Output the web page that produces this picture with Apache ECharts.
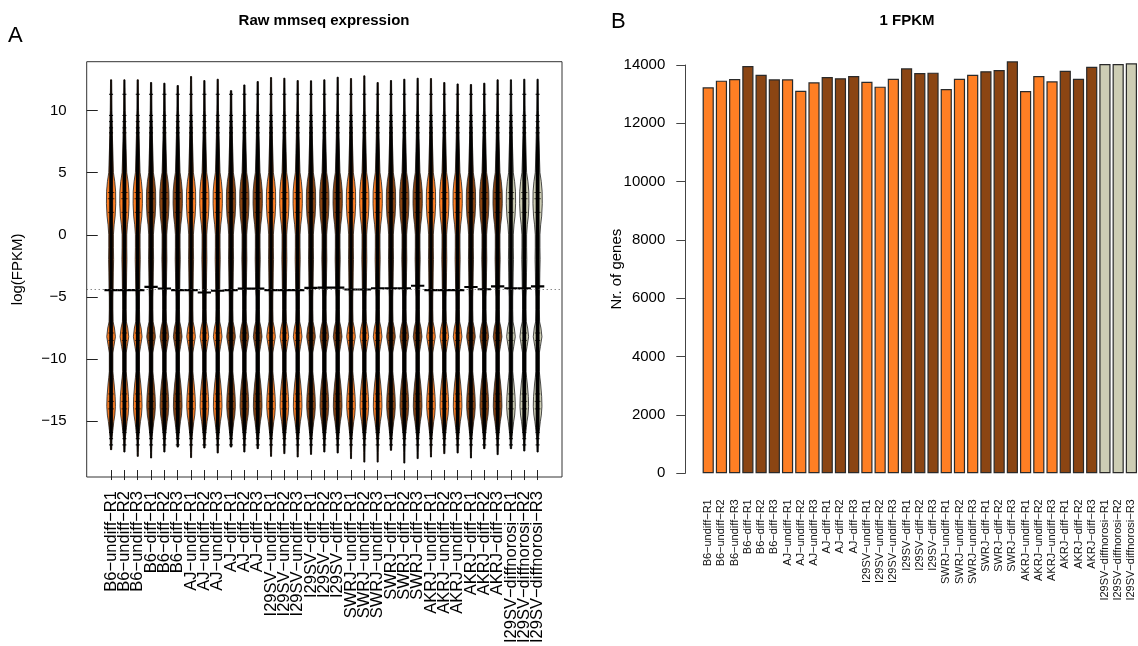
<!DOCTYPE html>
<html lang="en">
<head>
    <meta charset="UTF-8">
    <title>mmseq expression</title>
    <script src="https://cdn.jsdelivr.net/npm/echarts@6.0.0/dist/echarts.min.js"></script>
    <style>
        body { margin: 0; background: #fff; }
        #chart { width: 1138px; height: 646px; }
    </style>
</head>
<body>
    <div id="chart"></div>
<script>
    // sample names, same order in both panels
    const samples = [
        'B6-undiff-R1', 'B6-undiff-R2', 'B6-undiff-R3', 'B6-diff-R1', 'B6-diff-R2', 'B6-diff-R3',
        'AJ-undiff-R1', 'AJ-undiff-R2', 'AJ-undiff-R3', 'AJ-diff-R1', 'AJ-diff-R2', 'AJ-diff-R3',
        'I29SV-undiff-R1', 'I29SV-undiff-R2', 'I29SV-undiff-R3', 'I29SV-diff-R1', 'I29SV-diff-R2', 'I29SV-diff-R3',
        'SWRJ-undiff-R1', 'SWRJ-undiff-R2', 'SWRJ-undiff-R3', 'SWRJ-diff-R1', 'SWRJ-diff-R2', 'SWRJ-diff-R3',
        'AKRJ-undiff-R1', 'AKRJ-undiff-R2', 'AKRJ-undiff-R3', 'AKRJ-diff-R1', 'AKRJ-diff-R2', 'AKRJ-diff-R3',
        'I29SV-diffnorosi-R1', 'I29SV-diffnorosi-R2', 'I29SV-diffnorosi-R3'
    ];

    // panel B: number of genes above 1 FPKM
    const genesAt1FPKM = [
        13236, 13463, 13521, 13966, 13668, 13510,
        13510, 13119, 13407, 13589, 13545, 13623,
        13428, 13257, 13531, 13887, 13726, 13737,
        13178, 13531, 13668, 13785, 13829, 14127,
        13109, 13623, 13441, 13805, 13531, 13942,
        14035, 14035, 14059
    ];

    // panel A: bean extents and bean averages (log FPKM)
    const beanTop = [
        12.46, 12.46, 12.46, 12.24, 12.19, 12.0, 12.72, 12.4, 12.51, 11.59, 12.05,
        12.32, 12.64, 12.59, 12.4, 12.38, 12.46, 12.67, 12.56, 12.78, 12.24, 12.4,
        12.51, 12.59, 12.56, 12.24, 12.13, 12.08, 12.19, 12.46, 12.46, 12.51, 12.51
    ];
    const beanBottom = [
        -17.28, -17.47, -17.82, -17.95, -17.47, -17.07, -17.92, -17.15, -17.55, -17.07, -17.47,
        -17.2, -17.82, -17.6, -17.87, -17.66, -17.47, -17.55, -18.0, -18.28, -18.28, -17.33,
        -18.36, -18.0, -17.87, -17.6, -17.55, -17.95, -17.2, -17.68, -17.2, -17.39, -17.47
    ];
    const beanMean = [
        -4.45, -4.45, -4.45, -4.19, -4.32, -4.45, -4.45, -4.64, -4.5, -4.45, -4.33,
        -4.33, -4.45, -4.45, -4.45, -4.27, -4.25, -4.25, -4.4, -4.4, -4.3, -4.3,
        -4.3, -4.1, -4.45, -4.45, -4.45, -4.2, -4.38, -4.15, -4.3, -4.3, -4.15
    ];
    const overallMean = -4.37;

    // shared bean density profile (relative width at each level)
    const profileLevels = [12.5, 11, 10, 8, 6.5, 5, 4.3, 3.5, 2.5, 1.5, 0.8, 0, -1, -2, -3, -4.4, -5, -6,
        -7, -7.5, -8.2, -9, -9.5, -10, -11, -11.5, -12, -13, -13.8, -14.5, -15, -15.5, -16, -16.5, -17.5, -18.5];
    const profileDensity = [0.12, 0.15, 0.17, 0.28, 0.37, 0.5, 0.78, 0.97, 1.0, 0.87, 0.65, 0.5, 0.5, 0.54, 0.48, 0.43, 0.37, 0.37,
        0.43, 0.72, 0.93, 0.59, 0.37, 0.37, 0.37, 0.5, 0.65, 0.87, 0.93, 0.8, 0.59, 0.43, 0.28, 0.17, 0.12, 0.1];
    // sparse bean lines in the tails and lines across the modes
    const tailLines = [11.3, 9.6, 9.1, 8.6, 8.2, -15.9, -16.4, -16.9];
    const modeLines = [3.4, 2.9, 1.8, -7.9, -8.5, -12.8, -13.4, -14.0];

    const yTicksA = [-15, -10, -5, 0, 5, 10];

    const colOrange = '#FF7F24', colBrown = '#8B4513', colBeige = '#CDCDB4';
    function groupColor(name) {
        if (name.indexOf('diffnorosi') >= 0) return colBeige;
        if (name.indexOf('undiff') >= 0) return colOrange;
        return colBrown;
    }
    const minus = s => String(s).replace(/-/g, '\u2212');
    const font = '"Liberation Sans", Arial, Helvetica, sans-serif';

    function densityAt(v) {
        for (let k = 0; k < profileLevels.length - 1; k++) {
            const a = profileLevels[k], b = profileLevels[k + 1];
            if (v <= a && v >= b) {
                const t = (a - v) / (a - b);
                return profileDensity[k] + t * (profileDensity[k + 1] - profileDensity[k]);
            }
        }
        return v > profileLevels[0] ? profileDensity[0] : profileDensity[profileDensity.length - 1];
    }

    function renderBean(params, api) {
        const i = api.value(0), top = api.value(1), bottom = api.value(2), mean = api.value(3);
        const color = groupColor(samples[i - 1]);
        const unit = api.size([1, 0])[0];
        const halfMax = 0.35 * unit;
        const cx = api.coord([i, 0])[0];
        const yOf = v => api.coord([i, v])[1];

        const lv = [top], dv = [densityAt(top)];
        profileLevels.forEach((L, k) => {
            if (L < top && L > bottom) { lv.push(L); dv.push(profileDensity[k]); }
        });
        lv.push(bottom); dv.push(densityAt(bottom));

        function outline(limit) {
            const right = [], left = [];
            lv.forEach((L, k) => {
                const w = Math.min(dv[k], limit) * halfMax;
                right.push([cx + w, yOf(L)]);
                left.push([cx - w, yOf(L)]);
            });
            return right.concat(left.reverse());
        }

        const children = [
            { type: 'polygon', shape: { points: outline(1) },
              style: { fill: color, stroke: '#222', lineWidth: 0.8 } },
            { type: 'polygon', shape: { points: outline(0.38) },
              style: { fill: '#000', stroke: '#000', lineWidth: 0.3 } }
        ];
        tailLines.forEach(L => {
            if (L < top && L > bottom) {
                const w = Math.max(densityAt(L) * halfMax * 1.4, 2);
                children.push({ type: 'line', shape: { x1: cx - w, y1: yOf(L), x2: cx + w, y2: yOf(L) },
                    style: { stroke: '#000', lineWidth: 1 } });
            }
        });
        modeLines.forEach(L => {
            const w = densityAt(L) * halfMax * 0.7;
            children.push({ type: 'line', shape: { x1: cx - w, y1: yOf(L), x2: cx + w, y2: yOf(L) },
                style: { stroke: '#000', lineWidth: 0.7 } });
        });
        const p1 = api.coord([i - 0.5, mean]), p2 = api.coord([i + 0.5, mean]);
        children.push({ type: 'line', shape: { x1: p1[0], y1: p1[1], x2: p2[0], y2: p2[1] },
            style: { stroke: '#000', lineWidth: 2.2 } });
        return { type: 'group', children: children };
    }

    const beanData = samples.map((s, k) => [k + 1, beanTop[k], beanBottom[k], beanMean[k]]);

    const chart = echarts.init(document.getElementById('chart'));
    const option = {
        backgroundColor: '#fff',
        animation: false,
        textStyle: { fontFamily: font },
        graphic: [
            { type: 'text', style: { text: 'A', x: 8, y: 36, font: '22px ' + font, fill: '#000', textVerticalAlign: 'middle' } },
            { type: 'text', style: { text: 'Raw mmseq expression', x: 324, y: 21, font: 'bold 15px ' + font, fill: '#000', textAlign: 'center', textVerticalAlign: 'middle' } },
            { type: 'text', style: { text: 'B', x: 611, y: 22, font: '22px ' + font, fill: '#000', textVerticalAlign: 'middle' } },
            { type: 'text', style: { text: '1 FPKM', x: 907, y: 21, font: 'bold 15px ' + font, fill: '#000', textAlign: 'center', textVerticalAlign: 'middle' } }
        ],
        grid: [
            // panel A frame and bean coordinates
            { left: 86.7, top: 61.7, width: 475.3, height: 415.3, show: true, borderColor: '#333', borderWidth: 1, backgroundColor: 'transparent' },
            // panel B bars
            { left: 701.6, top: 65, width: 443.2, height: 408.3 },
            // panel A sample axis (one slot per bean)
            { left: 104.42, top: 61.7, width: 439.9, height: 415.3 }
        ],
        xAxis: [
            {
                type: 'value', gridIndex: 0, min: -0.83, max: 34.83,
                axisLine: { show: false }, splitLine: { show: false },
                axisTick: { show: false }, axisLabel: { show: false }
            },
            {
                type: 'category', gridIndex: 1, data: samples,
                axisLine: { show: false }, axisTick: { show: false },
                axisLabel: { interval: 0, rotate: 90, margin: 26, fontSize: 11, color: '#111', formatter: v => minus(v) }
            },
            {
                type: 'category', gridIndex: 2, data: samples,
                axisLine: { show: false },
                axisTick: { show: true, alignWithLabel: true, interval: 0, length: 10, lineStyle: { color: '#222' } },
                axisLabel: { interval: 0, rotate: 90, margin: 21, fontSize: 16.5, color: '#000', formatter: v => minus(v) }
            }
        ],
        yAxis: [
            {
                type: 'value', gridIndex: 0, min: -19.48, max: 13.92,
                name: 'log(FPKM)', nameLocation: 'middle', nameGap: 61, nameMoveOverlap: false,
                nameTextStyle: { fontSize: 15, color: '#000' },
                axisLine: { show: false },
                splitLine: { show: false },
                axisTick: { show: true, customValues: yTicksA, length: 11, lineStyle: { color: '#222' } },
                axisLabel: { customValues: yTicksA, margin: 20, fontSize: 15, color: '#000', formatter: v => minus(v) }
            },
            {
                type: 'value', gridIndex: 1, min: 0, max: 14000, interval: 2000, offset: 16.3,
                name: 'Nr. of genes', nameLocation: 'middle', nameGap: 61, nameMoveOverlap: false,
                nameTextStyle: { fontSize: 15, color: '#000' },
                axisLine: { show: true, lineStyle: { color: '#444' } },
                axisTick: { show: true, length: 9, lineStyle: { color: '#444' } },
                splitLine: { show: false },
                axisLabel: { margin: 20, fontSize: 15, color: '#000', formatter: v => String(v) }
            },
            { type: 'value', gridIndex: 2, show: false }
        ],
        series: [
            {
                type: 'line', xAxisIndex: 0, yAxisIndex: 0, data: [], silent: true, z: 1,
                markLine: {
                    symbol: 'none', silent: true, label: { show: false },
                    lineStyle: { type: [1, 3], color: '#555', width: 1 },
                    data: [{ yAxis: overallMean }]
                }
            },
            {
                type: 'custom', xAxisIndex: 0, yAxisIndex: 0, z: 3,
                renderItem: renderBean, data: beanData, clip: true
            },
            {
                type: 'bar', xAxisIndex: 1, yAxisIndex: 1, barWidth: 11.2, clip: false,
                data: genesAt1FPKM.map((v, k) => ({ value: v, itemStyle: { color: groupColor(samples[k]) } })),
                itemStyle: { borderColor: '#2a2a2a', borderWidth: 1.2 }
            }
        ]
    };
    chart.setOption(option);
</script>
</body>
</html>
